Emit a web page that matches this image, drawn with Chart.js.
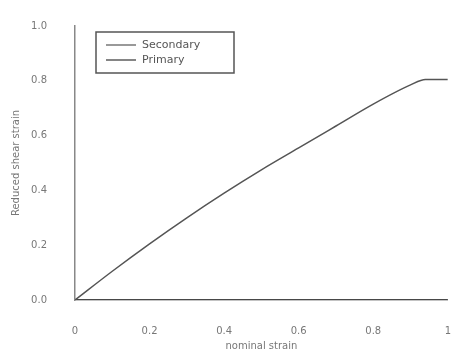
<!DOCTYPE html>
<html>
<head>
<meta charset="utf-8">
<script src="https://cdn.jsdelivr.net/npm/chart.js@4"></script>
<style>
  html, body { margin: 0; padding: 0; background: #fff; }
  #wrap { width: 468px; height: 356px; }
</style>
</head>
<body>
<div id="wrap"><canvas id="myChart" width="468" height="356"></canvas></div>
<script>
// dati
var nominalStrain = [0, 0.1, 0.2, 0.3, 0.4, 0.5, 0.6, 0.7, 0.8, 0.9, 0.94, 1.0];
var secondary = [0, 0.105, 0.205, 0.30, 0.39, 0.475, 0.555, 0.635, 0.715, 0.785, 0.805, 0.805];
var primary = [0, 0, 0, 0, 0, 0, 0, 0, 0, 0, 0, 0];
var seriesNames = ['Secondary', 'Primary'];
var xTicks = [0, 0.2, 0.4, 0.6, 0.8, 1];
var yTicks = [0, 0.2, 0.4, 0.6, 0.8, 1.0];

function toPoints(xs, ys) {
  return xs.map(function (x, i) { return { x: x, y: ys[i] }; });
}

// legenda dentro l'area del grafico, con bordo
var boxLegend = {
  id: 'boxLegend',
  afterDraw: function (chart) {
    var c = chart.ctx;
    var x0 = 96, y0 = 32, w = 138, h = 41;
    c.save();
    c.strokeStyle = '#555';
    c.lineWidth = 1.5;
    c.strokeRect(x0, y0, w, h);
    c.font = '11px "DejaVu Sans"';
    c.fillStyle = '#555';
    c.textBaseline = 'middle';
    chart.data.datasets.forEach(function (ds, i) {
      var yy = y0 + 13 + i * 15;
      c.strokeStyle = ds.borderColor;
      c.lineWidth = 1.2;
      c.beginPath();
      c.moveTo(x0 + 10, yy);
      c.lineTo(x0 + 40, yy);
      c.stroke();
      c.fillText(ds.label, x0 + 46, yy);
    });
    c.restore();
  }
};

var ctx = document.getElementById('myChart').getContext('2d');
var myChart = new Chart(ctx, {
  type: 'line',
  data: {
    datasets: [{
      label: seriesNames[0],
      data: toPoints(nominalStrain, secondary),
      borderColor: '#555',
      borderWidth: 1.5,
      pointRadius: 0,
      cubicInterpolationMode: 'monotone',
      fill: false
    }, {
      label: seriesNames[1],
      data: toPoints(nominalStrain, primary),
      borderColor: '#333',
      borderWidth: 1.5,
      pointRadius: 0,
      fill: false
    }]
  },
  options: {
    responsive: false,
    animation: false,
    layout: { padding: { top: 25, right: 14, left: 0, bottom: 0 } },
    plugins: { legend: { display: false }, tooltip: { enabled: false } },
    scales: {
      x: {
        type: 'linear', min: 0, max: 1,
        afterBuildTicks: function (s) { s.ticks = xTicks.map(function (v) { return { value: v }; }); },
        afterFit: function (s) { s.height = 56; },
        grid: { display: false },
        border: { display: true, color: '#888', width: 1.5 },
        ticks: {
          padding: 17, color: '#777', font: { family: 'DejaVu Sans', size: 10 },
          callback: function (v) { return v === 0 ? '0' : v === 1 ? '1' : v.toFixed(1); }
        },
        title: { display: true, text: 'nominal strain', color: '#777', font: { family: 'DejaVu Sans', size: 10 }, padding: { top: 7 } }
      },
      y: {
        type: 'linear', min: 0, max: 1,
        afterBuildTicks: function (s) { s.ticks = yTicks.map(function (v) { return { value: v }; }); },
        afterFit: function (s) { s.width = 75; },
        grid: { display: false },
        border: { display: true, color: '#888', width: 1.5 },
        ticks: {
          padding: 20, color: '#777', font: { family: 'DejaVu Sans', size: 10 },
          callback: function (v) { return v.toFixed(1); }
        },
        title: { display: true, text: 'Reduced shear strain', color: '#777', font: { family: 'DejaVu Sans', size: 10 }, padding: { top: 10, bottom: 2 } }
      }
    }
  },
  plugins: [boxLegend]
});
</script>
</body>
</html>
